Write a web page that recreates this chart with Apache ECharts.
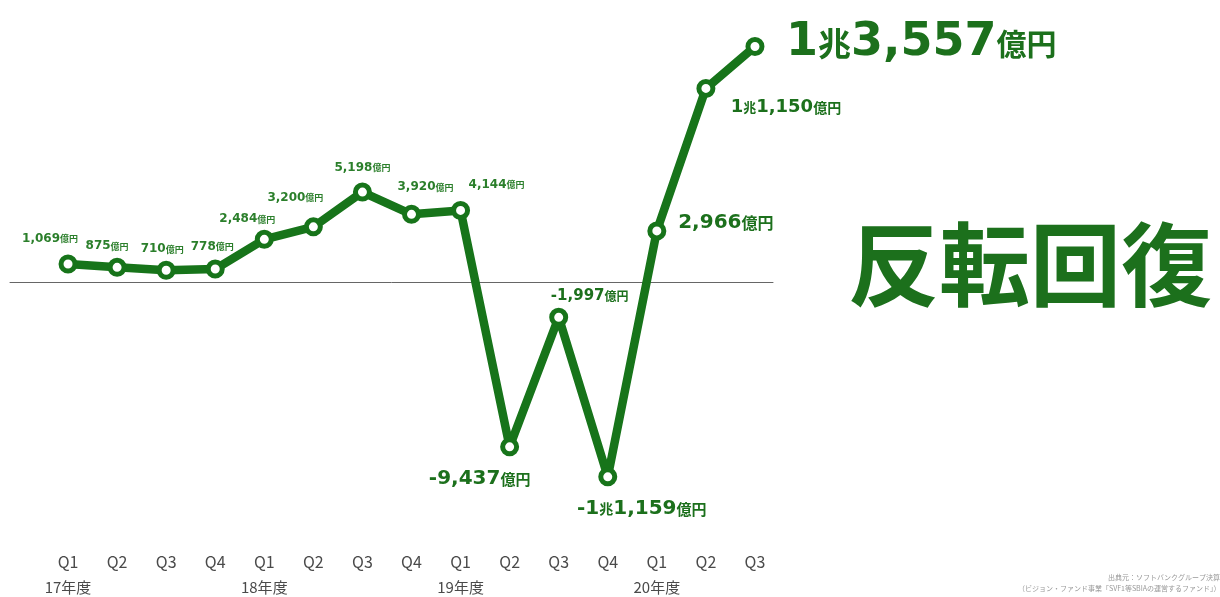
<!DOCTYPE html>
<html>
<head>
<meta charset="utf-8">
<script src="https://cdn.jsdelivr.net/npm/echarts@6/dist/echarts.min.js"></script>
<style>
  html, body { margin: 0; padding: 0; background: #fff; }
  #chart { width: 1220px; height: 597px; }
</style>
</head>
<body>
<div id="chart"></div>
<script>
// Quarterly results (億円), FY2017 Q1 – FY2020 Q3
const quarters = ['Q1','Q2','Q3','Q4','Q1','Q2','Q3','Q4','Q1','Q2','Q3','Q4','Q1','Q2','Q3'];
const fiscalYears = ['17年度','','','','18年度','','','','19年度','','','','20年度','',''];
const profits = [1069, 875, 710, 778, 2484, 3200, 5198, 3920, 4144, -9437, -1997, -11159, 2966, 11150, 13557];

const headline = '反転回復';
const sourceLines = ['出典元：ソフトバンクグループ決算資料', '（ビジョン・ファンド事業「SVF1等SBIAの運営するファンド」）'];

const GREEN = '#17741a';
const TEXT_GREEN = '#1c701c';
const SMALL_GREEN = '#2b7f2b';
const NUM_FONT = '"DejaVu Sans", "Noto Sans CJK JP", sans-serif';
const JP_FONT = '"Noto Sans CJK JP", sans-serif';

// label look per point: [offsetX, offsetY, numberSize, unitSize, color, align]
const labelLook = [
  [-18, -25, 12, 9, SMALL_GREEN],
  [-10, -21, 12, 9, SMALL_GREEN],
  [-4, -21, 12, 9, SMALL_GREEN],
  [-3, -22, 12, 9, SMALL_GREEN],
  [-17, -20, 12, 9, SMALL_GREEN],
  [-18, -29, 12, 9, SMALL_GREEN],
  [0, -24, 12, 9, SMALL_GREEN],
  [14, -27, 12, 9, SMALL_GREEN],
  [36, -26, 12, 9, SMALL_GREEN],
  [-30, 32, 20, 15, TEXT_GREEN],
  [31, -21, 15, 12, TEXT_GREEN],
  [34, 32, 20, 15, TEXT_GREEN],
  [69, -8, 20, 16, TEXT_GREEN],
  [80, 19, 18, 14, TEXT_GREEN],
  [31, -3, 46, 30, TEXT_GREEN, 'left']
];

function withCommas(n) {
  return String(n).replace(/\B(?=(\d{3})+(?!\d))/g, ',');
}

// 1兆3,557億円 style text built from the value itself
function yenText(v) {
  const sign = v < 0 ? '-' : '';
  const a = Math.abs(v);
  if (a >= 10000) {
    const cho = Math.floor(a / 10000);
    return '{n|' + sign + cho + '}{k|兆}{n|' + withCommas(a % 10000) + '}{u|億円}';
  }
  return '{n|' + sign + withCommas(a) + '}{u|億円}';
}

const points = profits.map((v, i) => {
  const [dx, dy, ns, us, col, al] = labelLook[i];
  return {
    value: v,
    label: {
      show: true,
      position: 'inside',
      offset: [dx, dy],
      align: al || 'center',
      verticalAlign: 'middle',
      formatter: () => yenText(v),
      rich: {
        n: { fontFamily: NUM_FONT, fontWeight: 'bold', fontSize: ns, color: col },
        k: { fontFamily: JP_FONT, fontWeight: 'bold', fontSize: Math.round(ns * 0.72), color: col },
        u: { fontFamily: JP_FONT, fontWeight: 'bold', fontSize: us, color: col }
      }
    }
  };
});

const Y_MIN = -14000, Y_MAX = 16000;
const GRID_TOP = 4, GRID_H = 522.3;

const chart = echarts.init(document.getElementById('chart'), null, { renderer: 'canvas' });
chart.setOption({
  backgroundColor: '#ffffff',
  animation: false,
  grid: [
    { left: 43.5, width: 736, top: GRID_TOP, height: GRID_H },
    { left: 10, right: 447, top: GRID_TOP, height: GRID_H }
  ],
  xAxis: [
    {
      type: 'category',
      gridIndex: 0,
      data: quarters.map((q, i) => q + '\n' + fiscalYears[i]),
      boundaryGap: true,
      axisLine: { show: false, onZero: false },
      axisTick: { show: false },
      splitLine: { show: false },
      axisLabel: {
        interval: 0,
        margin: 23,
        formatter: (val) => {
          const [q, y] = val.split('\n');
          return '{q|' + q + '}\n{y|' + (y || ' ') + '}';
        },
        rich: {
          q: { fontFamily: JP_FONT, fontSize: 16, color: '#4a4a4a', lineHeight: 25 },
          y: { fontFamily: JP_FONT, fontSize: 15, color: '#4a4a4a', lineHeight: 25 }
        }
      }
    },
    {
      // baseline at zero
      type: 'value',
      gridIndex: 1,
      min: 0, max: 1,
      axisLine: { show: true, onZero: true, lineStyle: { color: '#666', width: 1 } },
      axisTick: { show: false },
      axisLabel: { show: false },
      splitLine: { show: false }
    }
  ],
  yAxis: [
    { type: 'value', gridIndex: 0, min: Y_MIN, max: Y_MAX, show: false, splitLine: { show: false } },
    { type: 'value', gridIndex: 1, min: Y_MIN, max: Y_MAX, show: false, splitLine: { show: false } }
  ],
  series: [
    {
      type: 'line',
      xAxisIndex: 1, yAxisIndex: 1,
      data: [],
      silent: true
    },
    {
      type: 'line',
      xAxisIndex: 0, yAxisIndex: 0,
      data: points,
      symbol: 'circle',
      symbolSize: 14,
      showAllSymbol: true,
      lineStyle: { color: GREEN, width: 8.5, cap: 'round', join: 'round' },
      itemStyle: { color: '#ffffff', borderColor: GREEN, borderWidth: 5 },
      z: 3
    }
  ],
  graphic: [
    {
      type: 'text',
      left: 848, top: 219,
      style: {
        text: headline,
        font: 'bold 91px "Noto Sans CJK JP", sans-serif',
        fill: TEXT_GREEN
      }
    },
    {
      type: 'text',
      left: 1108, top: 574,
      style: { text: sourceLines[0], font: '7px "Noto Sans CJK JP", sans-serif', fill: '#999' }
    },
    {
      type: 'text',
      left: 1018, top: 585,
      style: { text: sourceLines[1], font: '7px "Noto Sans CJK JP", sans-serif', fill: '#999' }
    }
  ]
});
</script>
</body>
</html>
